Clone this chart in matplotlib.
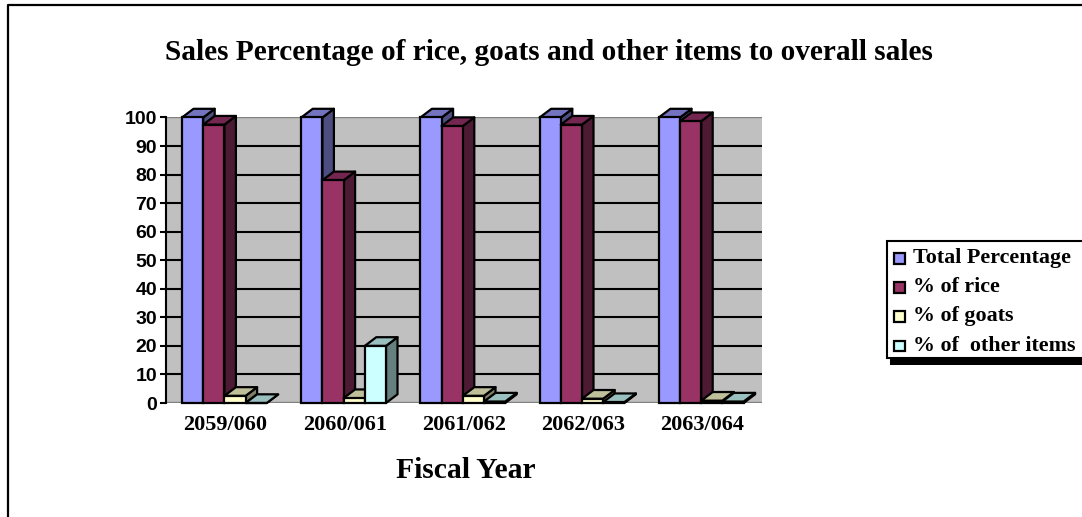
import matplotlib
matplotlib.use('Agg')
import matplotlib.pyplot as plt
from matplotlib.patches import Polygon, Rectangle

years = ['2059/060', '2060/061', '2061/062', '2062/063', '2063/064']
total = [100, 100, 100, 100, 100]
rice = [97.5, 78, 97, 97.5, 98.7]
goats = [2.5, 1.7, 2.5, 1.5, 0.8]
others = [0, 20, 0.5, 0.3, 0.5]

names = ['Total Percentage', '% of rice', '% of goats', '% of  other items']
front = ['#9999FF', '#993366', '#FFFFCC', '#CCFFFF']
top = ['#7373BF', '#732650', '#BFBF99', '#99BFBF']
side = ['#4D4D80', '#4D1A33', '#808066', '#668080']

W, H = 1082, 517
fig = plt.figure(figsize=(W / 100, H / 100), dpi=100)
ax = fig.add_axes([166 / W, 1 - 403 / H, 596 / W, 285.5 / H])
ax.set_xlim(0, 5)
ax.set_ylim(0, 100)
ax.set_facecolor('#C0C0C0')
for s in ax.spines.values():
    s.set_visible(False)
ax.spines['left'].set_visible(True)
ax.spines['left'].set_linewidth(1.5)

ax.set_yticks(range(0, 101, 10))
ax.set_yticklabels(range(0, 101, 10), family='Liberation Sans', fontweight='bold', fontsize=14)
ax.tick_params(axis='y', length=4.5, width=1.5, pad=2)
ax.set_xticks([i + 0.5 for i in range(5)])
ax.set_xticklabels(years, family='Liberation Serif', fontweight='bold', fontsize=16)
ax.tick_params(axis='x', length=0, pad=9)
ax.grid(axis='y', color='black', lw=1.5)
ax.set_axisbelow(True)
ax.axhline(0, color='#808080', lw=1.5, zorder=1)
ax.axhline(100, color='#808080', lw=1.5, zorder=1)

# depth and bar width in data units
px = 5 / 596
py = 100 / 285.5
dx, dy = 11.5 * px, 8.7 * py
bw = 21.2 * px
start = 16 * px

z = 3
for i in range(5):
    for j, vals in enumerate([total, rice, goats, others]):
        x0 = i + start + j * bw
        x1 = x0 + bw
        v = vals[i]
        ax.add_patch(Polygon([(x1, 0), (x1 + dx, dy), (x1 + dx, v + dy), (x1, v)],
                             fc=side[j], ec='black', lw=1.6, zorder=z, clip_on=False, joinstyle='round'))
        ax.add_patch(Polygon([(x0, v), (x0 + dx, v + dy), (x1 + dx, v + dy), (x1, v)],
                             fc=top[j], ec='black', lw=1.6, zorder=z, clip_on=False, joinstyle='round'))
        ax.add_patch(Rectangle((x0, 0), bw, v, fc=front[j], ec='black', lw=1.6, zorder=z,
                               clip_on=False))
        z += 1

fig.text(549 / W, 1 - 52 / H, 'Sales Percentage of rice, goats and other items to overall sales',
         family='Liberation Serif', fontweight='bold', fontsize=21.1, ha='center', va='center')
fig.text(465.5 / W, 1 - 470 / H, 'Fiscal Year', family='Liberation Serif', fontweight='bold',
         fontsize=21.3, ha='center', va='center')

# legend, drawn by hand to keep the hard shadow
over = fig.add_axes([0, 0, 1, 1], facecolor='none')
over.set_xlim(0, W)
over.set_ylim(H, 0)
over.axis('off')
over.add_patch(Rectangle((890, 246), 192, 119, fc='black', ec='none', zorder=1))
over.add_patch(Rectangle((887, 241), 197, 117, fc='white', ec='black', lw=1.5, zorder=2))
for k, name in enumerate(names):
    yy = 258 + k * 29.2
    over.add_patch(Rectangle((894, yy - 5), 10.5, 10.5, fc=front[k], ec='black', lw=1.6, zorder=3))
    over.text(913, yy, name, family='Liberation Serif', fontweight='bold', fontsize=15.8,
              va='center', zorder=3)
# outer chart frame
over.plot([7.5, 7.5, 1082], [517, 5, 5], color='black', lw=1.6, clip_on=False)

fig.savefig('out.png', dpi=100)
